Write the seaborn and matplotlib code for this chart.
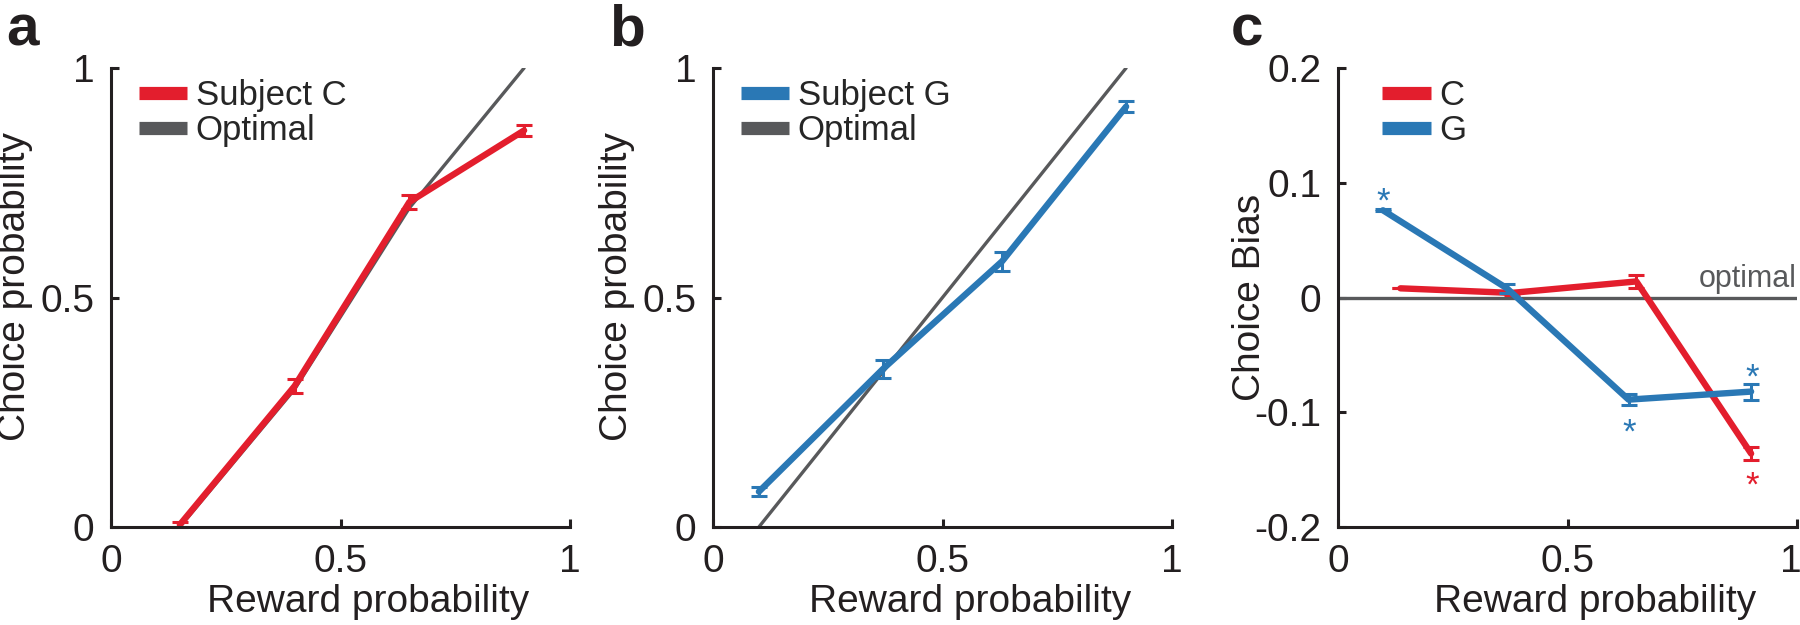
import matplotlib
matplotlib.use("Agg")
import matplotlib.pyplot as plt
import matplotlib.transforms as mtransforms
import seaborn as sns
import pandas as pd
from matplotlib.lines import Line2D

# Panel a: subject C choice probability
c_reward = [0.15, 0.40, 0.65, 0.90]
c_choice = [0.005, 0.307, 0.708, 0.864]
c_choice_err = [0.005, 0.016, 0.016, 0.012]
c_opt_x = [0.15, 0.40, 0.65, 0.90]
c_opt_y = [0.0, 0.30, 0.695, 1.0]

# Panel b: subject G choice probability
g_reward = [0.10, 0.37, 0.63, 0.90]
g_choice = [0.077, 0.344, 0.579, 0.916]
g_choice_err = [0.010, 0.020, 0.021, 0.012]
g_opt_x = [0.10, 0.90]
g_opt_y = [0.0, 1.0]

# Panel c: choice bias
c_bias_x = [0.136, 0.378, 0.65, 0.90]
c_bias = [0.008, 0.004, 0.014, -0.136]
c_bias_err = [0.0, 0.002, 0.006, 0.006]
g_bias_x = [0.098, 0.368, 0.633, 0.90]
g_bias = [0.076, 0.008, -0.089, -0.082]
g_bias_err = [0.001, 0.004, 0.005, 0.007]
opt_bias_x = [0.0, 1.0]
opt_bias_y = [0.0, 0.0]

# significance stars (centres)
star_x = [0.098, 0.635, 0.902, 0.902]
star_y = [0.092, -0.109, -0.061, -0.155]
star_subject = ["G", "G", "G", "C"]

prob_ticks = [0, 0.5, 1]
prob_labels = ["0", "0.5", "1"]
bias_ticks = [-0.2, -0.1, 0, 0.1, 0.2]
bias_labels = ["-0.2", "-0.1", "0", "0.1", "0.2"]

RED = "#E31E2D"
BLUE = "#2A78B5"
GRAY = "#58595B"
INK = "#231F20"
colors = {"C": RED, "G": BLUE}

sns.set_theme(style="ticks")
plt.rcParams["font.family"] = ["Liberation Sans", "DejaVu Sans"]

fig = plt.figure(figsize=(18, 6.25), dpi=100)
W, H = 1800, 625
lefts = [111, 713, 1338]
axes = [fig.add_axes([l / W, 98 / H, 459 / W, 459 / H]) for l in lefts]


def style_axis(ax, yticks, ylabels, ylim, ylabel, ylab_x, ylab_y):
    ax.set_xlim(0, 1)
    ax.set_ylim(*ylim)
    ax.set_xticks(prob_ticks)
    ax.set_xticklabels(prob_labels)
    ax.set_yticks(yticks)
    ax.set_yticklabels(ylabels)
    for s in ["top", "right"]:
        ax.spines[s].set_visible(False)
    for s in ["left", "bottom"]:
        ax.spines[s].set_linewidth(2.2)
        ax.spines[s].set_color(INK)
    ax.tick_params(direction="in", length=6, width=2.2, pad=12,
                   labelsize=28, colors=INK)
    ax.set_xlabel("Reward probability", fontsize=28, color=INK)
    ax.set_ylabel(ylabel, fontsize=28, color=INK)
    ax.xaxis.set_label_coords(0.56, -0.125)
    ax.yaxis.set_label_coords(ylab_x, ylab_y)


def legend(ax, names, cols, x):
    handles = [Line2D([0], [0], color=c, lw=9.5, solid_capstyle="butt") for c in cols]
    ax.legend(handles, names, loc="upper left", bbox_to_anchor=(x, 0.975),
              frameon=False, fontsize=25, handlelength=1.4, handletextpad=0.25,
              labelspacing=0.05, borderpad=0, borderaxespad=0)


def prob_panel(ax, rx, ry, rerr, ox, oy, col, name):
    sns.lineplot(x=ox, y=oy, color=GRAY, lw=2.4, ax=ax, legend=False)
    sns.lineplot(x=rx, y=ry, color=col, lw=4.6, ax=ax, legend=False)
    ax.errorbar(rx, ry, yerr=rerr, fmt="none", ecolor=col, elinewidth=2.2,
                capsize=6, capthick=2.2, clip_on=False)
    style_axis(ax, prob_ticks, prob_labels, (0, 1), "Choice probability", -0.17, 0.525)
    legend(ax, [name, "Optimal"], [col, GRAY], 0.06)


prob_panel(axes[0], c_reward, c_choice, c_choice_err, c_opt_x, c_opt_y, RED, "Subject C")
prob_panel(axes[1], g_reward, g_choice, g_choice_err, g_opt_x, g_opt_y, BLUE, "Subject G")

# panel c
ax = axes[2]
sns.lineplot(x=opt_bias_x, y=opt_bias_y, color=GRAY, lw=2.4, ax=ax, legend=False)
bias = pd.DataFrame({
    "x": c_bias_x + g_bias_x,
    "y": c_bias + g_bias,
    "err": c_bias_err + g_bias_err,
    "subject": ["C"] * len(c_bias_x) + ["G"] * len(g_bias_x),
})
for subj, d in bias.groupby("subject"):
    sns.lineplot(data=d, x="x", y="y", color=colors[subj], lw=4.6, ax=ax, legend=False)
    ax.errorbar(d["x"], d["y"], yerr=d["err"], fmt="none", ecolor=colors[subj],
                elinewidth=2.2, capsize=6, capthick=2.2)
for sx, sy, subj in zip(star_x, star_y, star_subject):
    ax.text(sx, sy - 0.0175, "*", ha="center", va="baseline", fontsize=25,
            color=colors[subj])
ax.text(1.0, 0.003, "optimal", ha="right", va="bottom", fontsize=22, color=GRAY)
style_axis(ax, bias_ticks, bias_labels, (-0.2, 0.2), "Choice Bias", -0.152, 0.5)
legend(ax, ["C", "G"], [RED, BLUE], 0.096)

# keep the last x tick label of panel c inside the figure
last = ax.get_xticklabels()[-1]
last.set_transform(last.get_transform() +
                   mtransforms.ScaledTranslation(-6 / 100, 0, fig.dpi_scale_trans))

# panel letters
for letter, x in zip(["a", "b", "c"], [6, 609, 1231]):
    fig.text(x / W, 1 - 46 / H, letter, fontsize=42, fontweight="bold",
             color=INK, va="baseline", ha="left")

fig.savefig("out.png", dpi=100)
